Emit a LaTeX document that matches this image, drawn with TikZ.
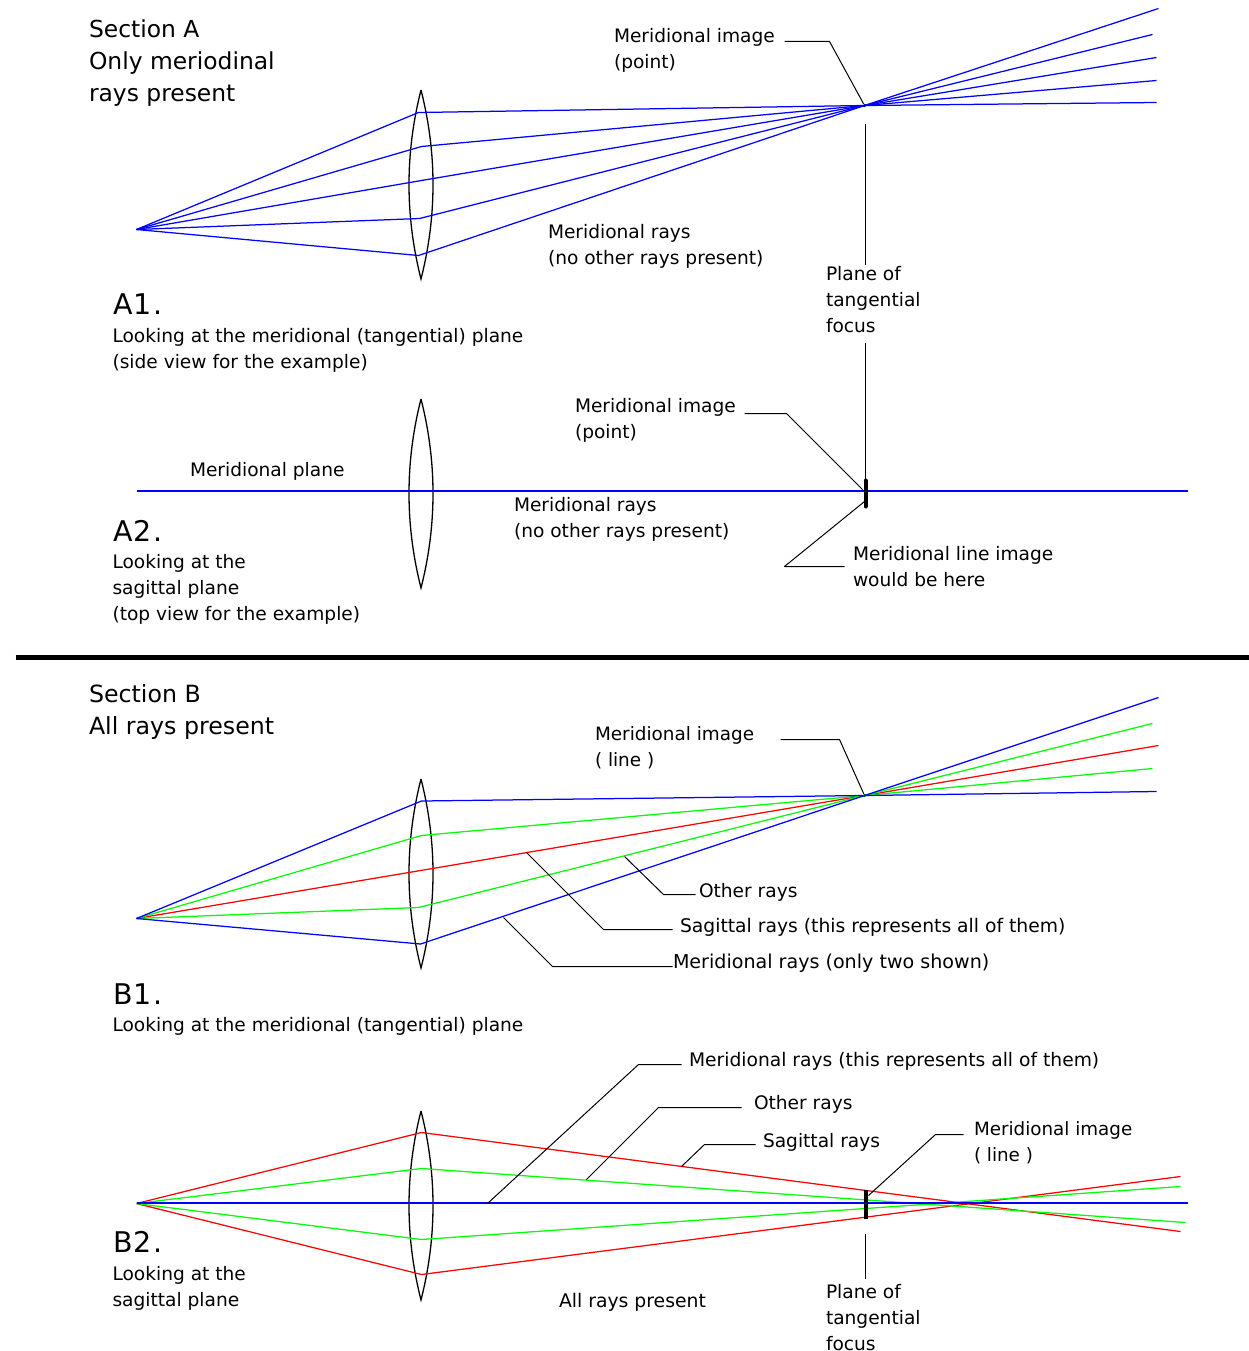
\documentclass[tikz,border=0pt]{standalone}
\usepackage{fontspec}
\setmainfont{DejaVu Sans}
\definecolor{rayblue}{RGB}{0,0,255}
\definecolor{raygreen}{RGB}{0,255,0}
\definecolor{rayred}{RGB}{255,0,0}
\tikzset{
  base/.style={anchor=north west,inner sep=0pt,outer sep=0pt,align=left,execute at begin node=\strut},
  lab/.style={base,yshift=18.2pt,font=\fontsize{18.6}{26}\selectfont},
  mlab/.style={base,yshift=14pt,font=\fontsize{18.6}{26}\selectfont},
  sec/.style={base,yshift=17.3pt,font=\fontsize{23.4}{32}\selectfont},
  big/.style={base,yshift=19.5pt,font=\fontsize{28.5}{28}\selectfont\addfontfeature{LetterSpace=5}},
  lens/.style={draw=black,line width=1.3pt},
  blueray/.style={draw=rayblue,line width=1.25pt,line join=round},
  axisray/.style={draw=rayblue,line width=1.6pt},
  greenray/.style={draw=raygreen,line width=1.25pt,line join=round},
  redray/.style={draw=rayred,line width=1.25pt,line join=round},
  leader/.style={draw=black,line width=1pt,line join=round},
  focusbar/.style={draw=black,line width=4pt,line cap=round},
  focusdot/.style={circle,fill=blue!70!black,inner sep=0pt,minimum size=3.5pt},
}
\newcommand{\lensat}[1]{\draw[lens] (420.5,#1-0.5) .. controls (404.5,#1+62.5) and (404.5,#1+125.5) .. (420.5,#1+188.5) .. controls (436.5,#1+125.5) and (436.5,#1+62.5) .. (420.5,#1-0.5);}
\begin{document}
\begin{tikzpicture}[x=1pt,y=-1pt]
\useasboundingbox (0,0) rectangle (1248,1351);
\begin{scope}[shift={(0.5,0.5)}]
% ---------- Section A1
\coordinate (sa) at (136,229);
\coordinate (fa) at (864,105);
\coordinate (a1) at (418,112); \coordinate (a2) at (421,146); \coordinate (a3) at (421,180);
\coordinate (a4) at (419,218); \coordinate (a5) at (418,255);
\coordinate (ae1) at (1156,102); \coordinate (ae2) at (1156,80); \coordinate (ae3) at (1156,57);
\coordinate (ae4) at (1152,34); \coordinate (ae5) at (1158,8);
\lensat{90}
\draw[blueray] (sa) -- (a1) -- (fa) -- (ae1);
\draw[blueray] (sa) -- (a2) -- (fa) -- (ae2);
\draw[blueray] (sa) -- (a3) -- (fa) -- (ae3);
\draw[blueray] (sa) -- (a4) -- (fa) -- (ae4);
\draw[blueray] (sa) -- (a5) -- (fa) -- (ae5);
\node[focusdot] (dotA) at (fa) {};
\coordinate (l1s) at (784,41); \coordinate (l1m) at (829,41);
\draw[leader] (l1s) -- (l1m) -- (dotA);
\coordinate (pa1) at (865,124); \coordinate (pa2) at (865,264);
\draw[leader] (pa1) -- (pa2);
\coordinate (pa3) at (865,342); \coordinate (bara1) at (865,480);
\draw[leader] (pa3) -- (bara1);
\node[sec] (tSecA) at (88.5,37) {Section A\\Only meriodinal\\rays present};
\node[mlab] (tA1img) at (613.5,42) {Meridional image\\(point)};
\node[mlab] (tA1rays) at (547.5,237.5) {Meridional rays\\(no other rays present)};
\node[mlab] (tPlaneA) at (825.5,280) {Plane of\\tangential\\focus};
\node[big] (tA1) at (112.5,313) {A1.};
\node[mlab] (tA1look) at (112,342) {Looking at the meridional (tangential) plane\\(side view for the example)};
% ---------- Section A2
\coordinate (la) at (136,490.5); \coordinate (ra) at (1187,490.5);
\coordinate (bt) at (865,480); \coordinate (bb) at (865,506);
\lensat{399}
\draw[axisray] (la) -- (ra);
\draw[focusbar] (bt) -- (bb);
\node[focusdot,fill=blue,minimum size=2.5pt] (dotA2) at (865,491) {};
\coordinate (l2s) at (744,413); \coordinate (l2m) at (786,413); \coordinate (l2e) at (862,489);
\draw[leader] (l2s) -- (l2m) -- (l2e);
\coordinate (l3s) at (844,566); \coordinate (l3m) at (784,566); \coordinate (l3e) at (864,501);
\draw[leader] (l3s) -- (l3m) -- (l3e);
\node[lab] (tMplane) at (189.5,476) {Meridional plane};
\node[mlab] (tA2img) at (574.5,412) {Meridional image\\(point)};
\node[mlab] (tA2rays) at (513.5,511) {Meridional rays\\(no other rays present)};
\node[mlab] (tA2line) at (852.5,560) {Meridional line image\\would be here};
\node[big] (tA2) at (112.5,539) {A2.};
\node[mlab] (tA2look) at (112,567.5) {Looking at the\\sagittal plane\\(top view for the example)};
% ---------- Divider
\coordinate (d1) at (15,657); \coordinate (d2) at (1248,657);
\draw[line width=5pt] (d1) -- (d2);
% ---------- Section B1
\coordinate (sb) at (136,918); \coordinate (fb) at (864,795);
\coordinate (b1) at (421,800.5); \coordinate (b2) at (421,835);
\coordinate (b4) at (418,907); \coordinate (b5) at (420,943.5);
\coordinate (be1) at (1156,791); \coordinate (be2) at (1152,768); \coordinate (be3) at (1158,745);
\coordinate (be4) at (1152,723); \coordinate (be5) at (1158,697);
\lensat{779}
\draw[redray] (sb) -- (fb) -- (be3);
\draw[greenray] (sb) -- (b2) -- (fb) -- (be2);
\draw[greenray] (sb) -- (b4) -- (fb) -- (be4);
\draw[blueray] (sb) -- (b1) -- (fb) -- (be1);
\draw[blueray] (sb) -- (b5) -- (fb) -- (be5);
\node[focusdot,fill=black!70!green] (dotB) at (fb) {};
\coordinate (l4s) at (780,739); \coordinate (l4m) at (839,739);
\draw[leader] (l4s) -- (l4m) -- (dotB);
\coordinate (l5e) at (624,856); \coordinate (l5m) at (663,894); \coordinate (l5s) at (695,894);
\draw[leader] (l5e) -- (l5m) -- (l5s);
\coordinate (l6e) at (526,852); \coordinate (l6m) at (603,929); \coordinate (l6s) at (672,929);
\draw[leader] (l6e) -- (l6m) -- (l6s);
\coordinate (l7e) at (503,917); \coordinate (l7m) at (552,966); \coordinate (l7s) at (672,966);
\draw[leader] (l7e) -- (l7m) -- (l7s);
\node[sec,font=\fontsize{23.7}{32}\selectfont] (tSecB) at (88.5,701) {Section B\\All rays present};
\node[mlab,font=\fontsize{18.4}{26}\selectfont] (tB1img) at (594.5,740) {Meridional image\\( line )};
\node[lab] (tOther) at (698.5,897) {Other rays};
\node[lab,font=\fontsize{18.75}{26}\selectfont] (tSag) at (679.5,932) {Sagittal rays (this represents all of them)};
\node[lab,font=\fontsize{19.1}{26}\selectfont] (tMer) at (672.5,968) {Meridional rays (only two shown)};
\node[big] (tB1) at (112.5,1002.5) {B1.};
\node[lab] (tB1look) at (112,1031) {Looking at the meridional (tangential) plane};
% ---------- Section B2
\coordinate (sc) at (136,1203); \coordinate (rc) at (1187,1202.5);
\coordinate (c1) at (421,1132); \coordinate (c2) at (421,1168);
\coordinate (c3) at (421,1239); \coordinate (c4) at (421,1274);
\coordinate (ce1) at (1180,1231); \coordinate (ce2) at (1185,1222);
\coordinate (ce3) at (1180,1186); \coordinate (ce4) at (1180,1176);
\coordinate (sc2) at (136,1202.5);
\lensat{1111}
\draw[redray] (sc) -- (c1) -- (ce1);
\draw[redray] (sc) -- (c4) -- (ce4);
\draw[greenray] (sc) -- (c2) -- (ce2);
\draw[greenray] (sc) -- (c3) -- (ce3);
\draw[axisray] (sc2) -- (rc);
\coordinate (cbt) at (865,1189.5); \coordinate (cbb) at (865,1218.5);
\draw[focusbar,line cap=butt] (cbt) -- (cbb);
\node[focusdot,fill=blue,minimum size=3pt] (dotC) at (865,1203) {};
\coordinate (l8a) at (487,1203); \coordinate (l8m) at (638,1064); \coordinate (l8s) at (681,1064);
\draw[leader] (l8a) -- (l8m) -- (l8s);
\coordinate (l9a) at (586,1179); \coordinate (l9m) at (658,1107); \coordinate (l9s) at (741,1107);
\draw[leader] (l9a) -- (l9m) -- (l9s);
\coordinate (l10a) at (681,1166); \coordinate (l10m) at (704,1144); \coordinate (l10s) at (755,1144);
\draw[leader] (l10a) -- (l10m) -- (l10s);
\coordinate (l11a) at (868,1195); \coordinate (l11m) at (935,1134); \coordinate (l11s) at (963,1134);
\draw[leader] (l11a) -- (l11m) -- (l11s);
\coordinate (pc1) at (865,1233); \coordinate (pc2) at (865,1278);
\draw[leader] (pc1) -- (pc2);
\node[lab,font=\fontsize{18.7}{26}\selectfont] (tB2mer) at (688.5,1066) {Meridional rays (this represents all of them)};
\node[lab] (tB2oth) at (753.5,1109) {Other rays};
\node[lab] (tB2sag) at (762.5,1147) {Sagittal rays};
\node[mlab,font=\fontsize{18.3}{26}\selectfont] (tB2img) at (973.5,1135) {Meridional image\\( line )};
\node[big] (tB2) at (112.5,1250) {B2.};
\node[mlab] (tB2look) at (112,1279.5) {Looking at the\\sagittal plane};
\node[lab,font=\fontsize{18.8}{26}\selectfont] (tAll) at (558.5,1307) {All rays present};
\node[mlab] (tPlaneB) at (825.5,1297.5) {Plane of\\tangential\\focus};
\end{scope}
\end{tikzpicture}
\end{document}
